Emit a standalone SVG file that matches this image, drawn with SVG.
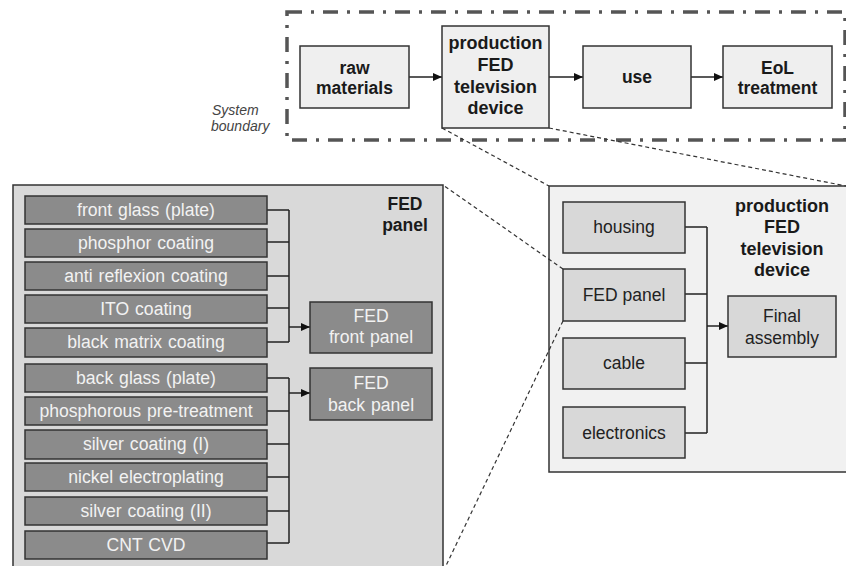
<svg xmlns="http://www.w3.org/2000/svg" width="846" height="566" viewBox="0 0 846 566">
<style>
text{font-family:"Liberation Sans",Arial,sans-serif;text-anchor:middle}
.b{font-weight:bold;font-size:17.5px;fill:#1a1a1a}
.w{font-size:17.6px;fill:#f2f2f2;word-spacing:1px}
.d{font-size:17.5px;fill:#222}
.top{fill:#efefef;stroke:#333;stroke-width:1.5}
.dark{fill:#8b8b8b;stroke:#333;stroke-width:1.5}
.mid{fill:#d8d8d8;stroke:#333;stroke-width:1.5}
.ln{fill:none;stroke:#222;stroke-width:1.5}
.dash{fill:none;stroke:#333;stroke-width:1.2;stroke-dasharray:4 3}
.it{font-style:italic;font-size:14px;fill:#444;text-anchor:start}
</style>
<defs>
<marker id="ah" markerWidth="10" markerHeight="10" refX="9" refY="5" orient="auto" markerUnits="userSpaceOnUse">
<path d="M0,1 L9,5 L0,9 Z" fill="#111"/>
</marker>
</defs>
<rect width="846" height="566" fill="#fff"/>

<g id="boundary">
<rect x="287" y="12" width="558" height="128" fill="none" stroke="#555" stroke-width="3.5" stroke-dasharray="15 9 3 9"/>
<text class="it" x="212" y="115">System</text>
<text class="it" x="211" y="131">boundary</text>
</g>

<g id="panel-fed">
<rect x="13" y="185" width="430" height="395" fill="#d9d9d9" stroke="#333" stroke-width="1.5"/>
<text class="b" x="405" y="210">FED</text>
<text class="b" x="405" y="231">panel</text>
</g>

<g id="panel-device">
<rect x="549" y="186" width="300" height="286" fill="#f1f1f1" stroke="#333" stroke-width="1.5"/>
<text class="b" x="782" y="212" style="font-size:18px">production</text>
<text class="b" x="782" y="233" style="font-size:18px">FED</text>
<text class="b" x="782" y="255" style="font-size:18px">television</text>
<text class="b" x="782" y="276" style="font-size:18px">device</text>
</g>

<g id="connectors">
<line class="ln" x1="409" y1="77" x2="442" y2="77" marker-end="url(#ah)"/>
<line class="ln" x1="549" y1="77" x2="583" y2="77" marker-end="url(#ah)"/>
<line class="ln" x1="691" y1="77" x2="723" y2="77" marker-end="url(#ah)"/>
<path class="ln" d="M267,210 H289 M267,242 H289 M267,276 H289 M267,308 H289 M267,342 H289 M289,210 V342"/>
<line class="ln" x1="289" y1="327" x2="310" y2="327" marker-end="url(#ah)"/>
<path class="ln" d="M267,378 H289 M267,411 H289 M267,444 H289 M267,477 H289 M267,511 H289 M267,543 H289 M289,378 V543"/>
<line class="ln" x1="289" y1="393" x2="310" y2="393" marker-end="url(#ah)"/>
<path class="ln" d="M685,227 H707 M685,294 H707 M685,363 H707 M685,433 H707 M707,227 V433"/>
<line class="ln" x1="707" y1="326" x2="728" y2="326" marker-end="url(#ah)"/>
<line class="dash" x1="442" y1="128" x2="549" y2="186"/>
<line class="dash" x1="549" y1="128" x2="846" y2="186"/>
<line class="dash" x1="563" y1="269" x2="443" y2="185"/>
<line class="dash" x1="563" y1="321" x2="443" y2="572"/>
</g>

<g id="raw-materials"><rect class="top" x="300" y="46" width="109" height="62"/><text class="b" x="354.5" y="74">raw</text><text class="b" x="354.5" y="94">materials</text></g>
<g id="production"><rect class="top" x="442" y="26" width="107" height="102"/><text class="b" x="495.5" y="49" style="font-size:18px">production</text><text class="b" x="495.5" y="71" style="font-size:18px">FED</text><text class="b" x="495.5" y="93" style="font-size:18px">television</text><text class="b" x="495.5" y="114" style="font-size:18px">device</text></g>
<g id="use"><rect class="top" x="583" y="46" width="108" height="62"/><text class="b" x="637" y="83">use</text></g>
<g id="eol"><rect class="top" x="723" y="46" width="109" height="62"/><text class="b" x="777.5" y="74">EoL</text><text class="b" x="777.5" y="94">treatment</text></g>

<g id="front-glass"><rect class="dark" x="25" y="196" width="242" height="28"/><text class="w" x="146" y="216">front glass (plate)</text></g>
<g id="phosphor-coating"><rect class="dark" x="25" y="229" width="242" height="28"/><text class="w" x="146" y="249">phosphor coating</text></g>
<g id="anti-reflexion"><rect class="dark" x="25" y="262" width="242" height="28"/><text class="w" x="146" y="282">anti reflexion coating</text></g>
<g id="ito-coating"><rect class="dark" x="25" y="295" width="242" height="28"/><text class="w" x="146" y="315">ITO coating</text></g>
<g id="black-matrix"><rect class="dark" x="25" y="328" width="242" height="29"/><text class="w" x="146" y="348">black matrix coating</text></g>
<g id="back-glass"><rect class="dark" x="25" y="364" width="242" height="28"/><text class="w" x="146" y="384">back glass (plate)</text></g>
<g id="phosphorous"><rect class="dark" x="25" y="397" width="242" height="28"/><text class="w" x="146" y="417">phosphorous pre-treatment</text></g>
<g id="silver-1"><rect class="dark" x="25" y="430" width="242" height="29"/><text class="w" x="146" y="450">silver coating (I)</text></g>
<g id="nickel"><rect class="dark" x="25" y="463" width="242" height="28"/><text class="w" x="146" y="483">nickel electroplating</text></g>
<g id="silver-2"><rect class="dark" x="25" y="497" width="242" height="28"/><text class="w" x="146" y="517">silver coating (II)</text></g>
<g id="cnt-cvd"><rect class="dark" x="25" y="531" width="242" height="28"/><text class="w" x="146" y="551">CNT CVD</text></g>
<g id="fed-front"><rect class="dark" x="310" y="302" width="122" height="51"/><text class="w" x="371" y="322">FED</text><text class="w" x="371" y="343">front panel</text></g>
<g id="fed-back"><rect class="dark" x="310" y="368" width="122" height="52"/><text class="w" x="371" y="389">FED</text><text class="w" x="371" y="411">back panel</text></g>

<g id="housing"><rect class="mid" x="563" y="202" width="122" height="51"/><text class="d" x="624" y="233">housing</text></g>
<g id="fed-panel"><rect class="mid" x="563" y="269" width="122" height="52"/><text class="d" x="624" y="301">FED panel</text></g>
<g id="cable"><rect class="mid" x="563" y="338" width="122" height="51"/><text class="d" x="624" y="369">cable</text></g>
<g id="electronics"><rect class="mid" x="563" y="407" width="122" height="51"/><text class="d" x="624" y="439">electronics</text></g>
<g id="final-assembly"><rect class="mid" x="728" y="296" width="108" height="61"/><text class="d" x="782" y="322">Final</text><text class="d" x="782" y="344">assembly</text></g>
</svg>
